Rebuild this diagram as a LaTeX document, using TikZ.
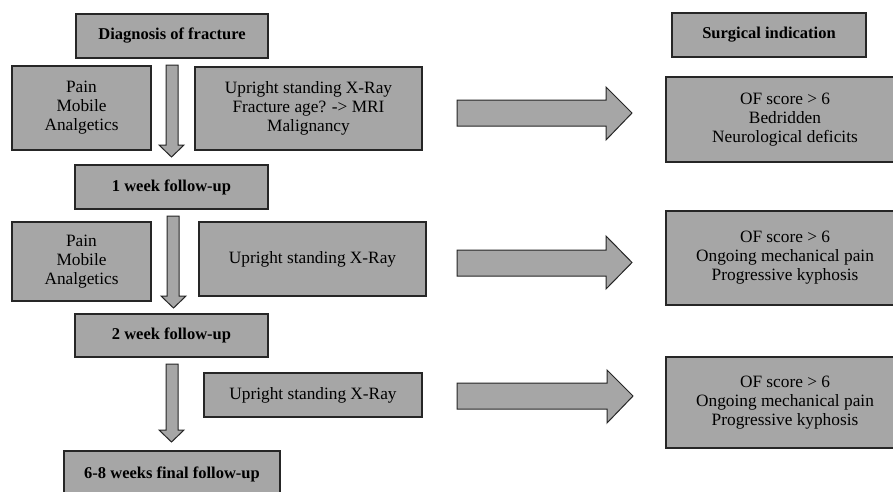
\documentclass[tikz,border=0pt]{standalone}
\usepackage{fontspec}
\setmainfont{Liberation Serif}
\definecolor{boxfill}{HTML}{A6A6A6}
\definecolor{boxline}{HTML}{262626}
\tikzset{
  box/.style={draw=boxline, fill=boxfill, line width=1.3pt, inner sep=0pt, align=center,
    font=\fontsize{17.3}{19}\selectfont},
  title/.style={box, font=\fontsize{16.5}{19}\selectfont\bfseries},
  blockarr/.style={draw=boxline, fill=boxfill, line width=1pt, line join=miter}
}
\begin{document}
\begin{tikzpicture}[x=1pt,y=-1pt]
\useasboundingbox (0,0) rectangle (893,491);
% left column
\node[title, minimum width=192pt, minimum height=44pt] (diag) at (172,36) {Diagnosis of fracture};
\node[box, minimum width=139pt, minimum height=84pt] (pain1) at (81.5,108) {Pain\\Mobile\\Analgetics};
\node[box, minimum width=227pt, minimum height=83pt] (up1) at (308.5,108.5) {Upright standing X-Ray\\Fracture age? -> MRI\\Malignancy};
\node[title, minimum width=193pt, minimum height=44pt] (wk1) at (171.5,187) {1 week follow-up};
\node[box, minimum width=139pt, minimum height=79pt] (pain2) at (81.5,261.5) {Pain\\Mobile\\Analgetics};
\node[box, minimum width=227pt, minimum height=74pt] (up2) at (312.5,259) {Upright standing X-Ray};
\node[title, minimum width=193pt, minimum height=43pt] (wk2) at (171.5,335.5) {2 week follow-up};
\node[box, minimum width=218pt, minimum height=44pt] (up3) at (313,395) {Upright standing X-Ray};
\node[title, minimum width=216pt, minimum height=46pt] (wk3) at (172,474) {6-8 weeks final follow-up};
% right column
\node[title, minimum width=194pt, minimum height=44pt] (surg) at (769,35) {Surgical indication};
\node[box, minimum width=238pt, minimum height=85pt] (of1) at (785,119.5) {OF score > 6\\Bedridden\\Neurological deficits};
\node[box, minimum width=238pt, minimum height=94pt] (of2) at (785,258) {OF score > 6\\Ongoing mechanical pain\\Progressive kyphosis};
\node[box, minimum width=238pt, minimum height=91pt] (of3) at (785,402.5) {OF score > 6\\Ongoing mechanical pain\\Progressive kyphosis};
% down block arrows
\draw[blockarr] (166,65) -- (178,65) -- (178,145) -- (184,145) -- (171.5,157) -- (159,145) -- (166,145) -- cycle;
\draw[blockarr] (167,216) -- (179,216) -- (179,296) -- (186,296) -- (173.5,308) -- (161,296) -- (167,296) -- cycle;
\draw[blockarr] (166,364) -- (178,364) -- (178,430) -- (184,430) -- (171.5,442) -- (159,430) -- (166,430) -- cycle;
% right block arrows
\draw[blockarr] (457,100) -- (606,100) -- (606,87) -- (632,113) -- (606,140) -- (606,126) -- (457,126) -- cycle;
\draw[blockarr] (457,250) -- (606,250) -- (606,236) -- (632,262.5) -- (606,289) -- (606,276) -- (457,276) -- cycle;
\draw[blockarr] (457,383) -- (607,383) -- (607,370) -- (633,396) -- (607,423) -- (607,409) -- (457,409) -- cycle;
\end{tikzpicture}
\end{document}
